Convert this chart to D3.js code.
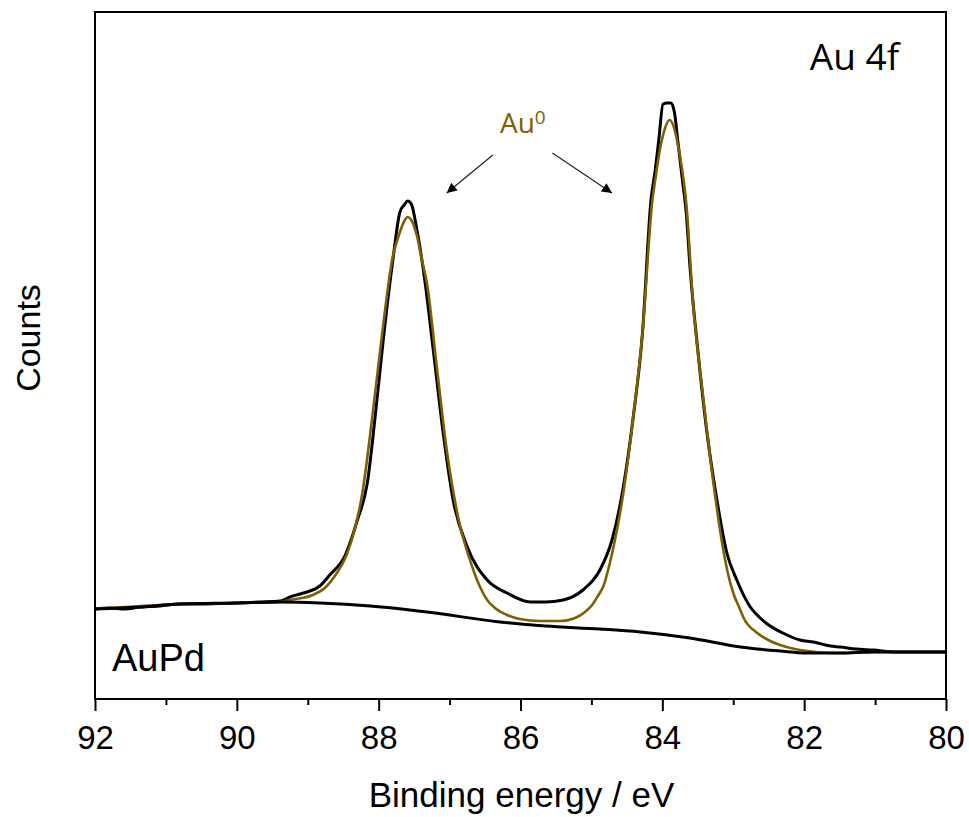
<!DOCTYPE html>
<html>
<head>
<meta charset="utf-8">
<script src="https://cdn.jsdelivr.net/npm/d3@7"></script>
<style>
  body { margin: 0; background: #fff; }
  svg { display: block; }
</style>
</head>
<body>
<script>
const w = 969;
const h = 817;

// binding energy (eV) and counts
const spectrumEnergy = [92.00, 91.79, 91.58, 91.37, 91.08, 90.80, 90.52, 90.01, 89.67, 89.39, 89.25, 89.11, 89.01, 88.83, 88.69, 88.47, 88.30, 88.16, 88.05, 87.94, 87.80, 87.70, 87.64, 87.59, 87.54, 87.46, 87.35, 87.23, 87.09, 86.95, 86.75, 86.47, 86.19, 85.86, 85.65, 85.40, 85.12, 84.88, 84.71, 84.55, 84.41, 84.28, 84.16, 84.10, 84.05, 83.99, 83.93, 83.88, 83.83, 83.78, 83.72, 83.66, 83.61, 83.50, 83.37, 83.23, 83.09, 82.95, 82.76, 82.62, 82.48, 82.30, 82.06, 81.87, 81.63, 81.49, 81.27, 81.03, 80.69, 80.29, 80.00];
const spectrumCounts = [9000, 9100, 9000, 9200, 9300, 9500, 9500, 9600, 9700, 9800, 10200, 10500, 10700, 11300, 12400, 14400, 17900, 21600, 28200, 35600, 43900, 48700, 49400, 49800, 49500, 46900, 41900, 34900, 26600, 19900, 15200, 11900, 10600, 9700, 9700, 9900, 10900, 12900, 15900, 21200, 28200, 36600, 49900, 52900, 55900, 59500, 59600, 59600, 58700, 55700, 52100, 48400, 43200, 34900, 26600, 19900, 14600, 11900, 9200, 8100, 7300, 6600, 5900, 5700, 5300, 5200, 5000, 4900, 4700, 4700, 4700];

const fitEnergy = [92.00, 90.80, 90.01, 89.67, 89.39, 89.25, 88.93, 88.76, 88.59, 88.47, 88.38, 88.23, 88.09, 87.95, 87.81, 87.70, 87.63, 87.59, 87.54, 87.46, 87.39, 87.32, 87.18, 87.04, 86.88, 86.68, 86.57, 86.47, 86.36, 86.19, 86.01, 85.72, 85.44, 85.23, 85.09, 84.99, 84.91, 84.83, 84.74, 84.64, 84.55, 84.41, 84.28, 84.14, 84.10, 84.03, 83.97, 83.90, 83.83, 83.78, 83.72, 83.66, 83.57, 83.42, 83.28, 83.14, 83.07, 83.00, 82.90, 82.86, 82.66, 82.48, 82.34, 82.13, 81.96, 81.77, 81.49, 81.03, 80.00];
const fitCounts = [9000, 9500, 9600, 9650, 9700, 9900, 10400, 11100, 12600, 14100, 15900, 20600, 28200, 36600, 43900, 46700, 47900, 48200, 47900, 46300, 43900, 41600, 33200, 24900, 18200, 13200, 11200, 9900, 9100, 8400, 8000, 7800, 7800, 8100, 8700, 9400, 10300, 11300, 13600, 16900, 20600, 28200, 36600, 49900, 51900, 55100, 56900, 57900, 57000, 55400, 52900, 49400, 39900, 29900, 21600, 14900, 12400, 10600, 8900, 8200, 6600, 5800, 5400, 5000, 4800, 4650, 4600, 4700, 4700];

const bgEnergy = [92.00, 91.37, 90.80, 90.01, 89.39, 88.83, 88.12, 87.32, 86.29, 85.65, 84.88, 84.31, 83.61, 82.90, 82.34, 81.96, 81.49, 81.03, 80.00];
const bgCounts = [9000, 9200, 9500, 9600, 9700, 9600, 9300, 8700, 7700, 7300, 7000, 6700, 6100, 5200, 4800, 4600, 4600, 4700, 4700];

const majorTicks = [92, 90, 88, 86, 84, 82, 80];
const minorTicks = [91, 89, 87, 85, 83, 81];

const fitColor = "#7f6000";

function createSpectrum() {
    const left = 95, right = 946, top = 12, bottom = 699;

    const svg = d3.select("body")
        .append("svg")
        .attr("width", w)
        .attr("height", h)
        ;

    const xScale = d3.scaleLinear()
        .domain([92, 80])
        .range([left, right])
        ;

    const yScale = d3.scaleLinear()
        .domain([0, 68700])
        .range([bottom, top])
        ;

    const line = d3.line()
        .x(d => xScale(d[0]))
        .y(d => yScale(d[1]))
        .curve(d3.curveMonotoneX)
        ;

    const spectrum = spectrumEnergy.map((e, i) => [e, spectrumCounts[i]]);
    const fit = fitEnergy.map((e, i) => [e, fitCounts[i]]);
    const bg = bgEnergy.map((e, i) => [e, bgCounts[i]]);

    // minor ticks
    svg.append("g")
        .attr("transform", "translate(0, " + bottom + ")")
        .call(d3.axisBottom(xScale).tickValues(minorTicks).tickSize(6).tickFormat(""))
        .call(g => g.select(".domain").remove())
        .call(g => g.selectAll("line").attr("stroke", "#000").attr("stroke-width", 2))
        ;

    // major ticks + labels
    svg.append("g")
        .attr("id", "x-axis")
        .attr("transform", "translate(0, " + bottom + ")")
        .call(d3.axisBottom(xScale).tickValues(majorTicks).tickSize(12).tickPadding(15))
        .call(g => g.select(".domain").remove())
        .call(g => g.selectAll("line").attr("stroke", "#000").attr("stroke-width", 2))
        .call(g => g.selectAll("text")
            .attr("fill", "#000")
            .style("font-family", "'Liberation Sans', Arial, sans-serif")
            .style("font-size", "33px"))
        ;

    svg.append("path")
        .datum(spectrum)
        .attr("fill", "none")
        .attr("stroke", "#000")
        .attr("stroke-width", 3)
        .attr("stroke-linejoin", "round")
        .attr("d", line)
        ;

    svg.append("path")
        .datum(fit)
        .attr("fill", "none")
        .attr("stroke", fitColor)
        .attr("stroke-width", 2.6)
        .attr("stroke-linejoin", "round")
        .attr("d", line)
        ;

    svg.append("path")
        .datum(bg)
        .attr("fill", "none")
        .attr("stroke", "#000")
        .attr("stroke-width", 3)
        .attr("d", line)
        ;

    // frame
    svg.append("rect")
        .attr("x", left)
        .attr("y", top)
        .attr("width", right - left)
        .attr("height", bottom - top)
        .attr("fill", "none")
        .attr("stroke", "#000")
        .attr("stroke-width", 2)
        ;

    // axis titles
    svg.append("text")
        .attr("x", (left + right) / 2 + 1)
        .attr("y", 807)
        .attr("text-anchor", "middle")
        .style("font-family", "'Liberation Sans', Arial, sans-serif")
        .style("font-size", "35px")
        .text("Binding energy / eV")
        ;

    svg.append("text")
        .attr("transform", "translate(40, 338) rotate(-90)")
        .attr("text-anchor", "middle")
        .style("font-family", "'Liberation Sans', Arial, sans-serif")
        .style("font-size", "34px")
        .text("Counts")
        ;

    // annotations
    svg.append("text")
        .attr("x", xScale(81.92))
        .attr("y", yScale(62900))
        .style("font-family", "'Open Sans', sans-serif")
        .style("font-size", "37px")
        .text("Au 4f")
        ;

    svg.append("text")
        .attr("x", xScale(91.76))
        .attr("y", yScale(2800))
        .style("font-family", "'Liberation Sans', Arial, sans-serif")
        .style("font-size", "38px")
        .text("AuPd")
        ;

    const label = svg.append("text")
        .attr("x", xScale(86.29))
        .attr("y", yScale(56600))
        .attr("fill", fitColor)
        .style("font-family", "'Open Sans', sans-serif")
        .style("font-size", "28px")
        .text("Au")
        ;
    label.append("tspan")
        .attr("dy", -9)
        .style("font-size", "19px")
        .text("0")
        ;

    svg.append("defs")
        .append("marker")
        .attr("id", "head")
        .attr("viewBox", "0 0 10 10")
        .attr("refX", 10)
        .attr("refY", 5)
        .attr("markerWidth", 14)
        .attr("markerHeight", 10)
        .attr("markerUnits", "userSpaceOnUse")
        .attr("orient", "auto")
        .append("path")
        .attr("d", "M0,0 L10,5 L0,10 Z")
        .attr("fill", "#000")
        ;

    const arrows = [
        [86.39, 54400, 87.04, 50600],
        [85.55, 54600, 84.71, 50600]
    ];
    svg.selectAll(".arrow")
        .data(arrows)
        .enter()
        .append("line")
        .attr("class", "arrow")
        .attr("x1", d => xScale(d[0]))
        .attr("y1", d => yScale(d[1]))
        .attr("x2", d => xScale(d[2]))
        .attr("y2", d => yScale(d[3]))
        .attr("stroke", "#222")
        .attr("stroke-width", 1.2)
        .attr("marker-end", "url(#head)")
        ;
}

createSpectrum();
</script>
</body>
</html>
